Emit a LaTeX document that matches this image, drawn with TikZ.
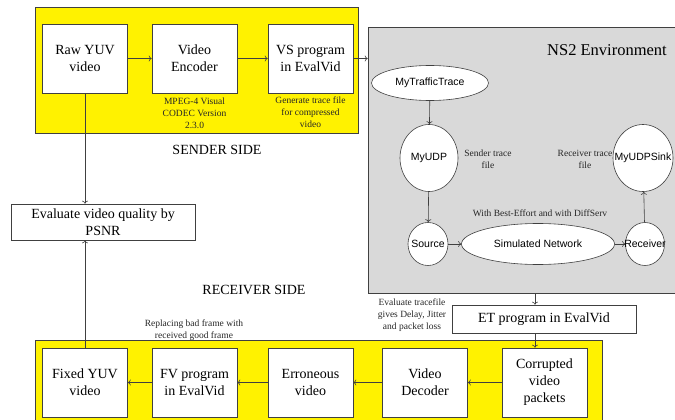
\documentclass[tikz,border=0pt]{standalone}
\usepackage{fontspec}
\setmainfont{Liberation Serif}
\newfontfamily\simfont{Liberation Sans}
\usetikzlibrary{arrows.meta,shapes.geometric}

\tikzset{
  blk/.style={draw=black!75, fill=white, line width=0.6pt, minimum width=85pt, minimum height=69pt,
    align=center, inner sep=1pt, font=\fontsize{14}{17}\selectfont},
  wide/.style={blk, minimum width=184pt},
  simnode/.style={ellipse, draw=black!75, fill=white, line width=0.6pt, inner sep=0pt,
    font=\simfont\fontsize{10.5}{12}\selectfont},
  note/.style={align=center, inner sep=0pt, font=\fontsize{9.5}{12}\selectfont, text=black!85},
  link/.style={draw=black!75, line width=0.6pt, -{To[length=3pt,width=6pt]}}
}
% text that may run over the edge of its circle
\newcommand{\overtext}[1]{\makebox[0pt]{#1}}

\begin{document}
\begin{tikzpicture}[x=1pt, y=-1pt]
\useasboundingbox (0,0) rectangle (675,420);

% the two sides and the simulator
\draw[fill=yellow, draw=black!75, line width=0.6pt] (35,7) rectangle (358,133);
\draw[fill=yellow, draw=black!75, line width=0.6pt] (35,340) rectangle (602,422);
\node[draw=black!75, fill=black!15, line width=0.6pt, minimum width=308pt, minimum height=266pt,
  inner sep=0pt] (ns) at (522,160) {};

% sender side
\node[blk] (raw) at (85,58.5) {Raw YUV\\video};
\node[blk] (enc) at (194.5,58.5) {Video\\Encoder};
\node[blk] (vs) at (310.5,58.5) {VS program\\in EvalVid};
\node[note] (codec) at (194.5,113) {MPEG-4 Visual\\CODEC Version\\2.3.0};
\node[note] (gen) at (310.5,112) {Generate trace file\\for compressed\\video};
\node[font=\fontsize{14}{17}\selectfont] (snd) at (217,150) {SENDER SIDE};

% quality check
\node[wide, minimum height=36pt] (psnr) at (103,222) {Evaluate video quality by\\PSNR};

% NS2
\node[font=\fontsize{16.5}{20}\selectfont] (nslab) at (607,50) {NS2 Environment};
\node[simnode, minimum width=117pt, minimum height=35pt] (trace) at (430,83) {MyTrafficTrace};
\node[simnode, minimum width=58pt, minimum height=67pt] (udp) at (429,158) {MyUDP};
\node[simnode, minimum width=60pt, minimum height=67pt] (sink) at (643,158) {\overtext{MyUDPSink}};
\node[simnode, minimum width=40pt, minimum height=43pt] (src) at (428,244) {\overtext{Source}};
\node[simnode, minimum width=153pt, minimum height=41pt] (net) at (538,244) {Simulated Network};
\node[simnode, minimum width=39pt, minimum height=43pt] (rcv) at (645,244) {\overtext{Receiver}};
\node[note] (strace) at (488,159) {Sender trace\\file};
\node[note] (rtrace) at (585,159) {Receiver trace\\file};
\node[note] (qos) at (540,213) {With Best-Effort and with DiffServ};

% receiver side
\node[wide, minimum height=28pt] (et) at (544,319) {ET program in EvalVid};
\node[note] (evtr) at (412,315) {Evaluate tracefile\\gives Delay, Jitter\\and packet loss};
\node[font=\fontsize{14}{17}\selectfont] (rsd) at (254,290) {RECEIVER SIDE};
\node[note] (repl) at (194,330) {Replacing bad frame with\\received good frame};
\node[blk] (fixed) at (85,382.5) {Fixed YUV\\video};
\node[blk] (fv) at (194.5,382.5) {FV program\\in EvalVid};
\node[blk] (err) at (310.5,382.5) {Erroneous\\video};
\node[blk] (dec) at (425,382.5) {Video\\Decoder};
\node[blk] (cor) at (544.5,382.5) {Corrupted\\video\\packets};

\coordinate (etx) at ([xshift=-9pt]et.north);

\draw[link] (raw) -- (enc);
\draw[link] (enc) -- (vs);
\draw[link] (vs) -- (vs -| ns.west);
\draw[link] (raw) -- (raw |- psnr.north);
\draw[link] (trace) -- (udp);
\draw[link] (udp) -- (src);
\draw[link] (src) -- (net);
\draw[link] (net) -- (rcv);
\draw[link] (rcv) -- (sink);
\draw[link] (etx |- ns.south) -- (etx);
\draw[link] ([xshift=-9pt]et.south) -- ([xshift=-9pt]et.south |- cor.north);
\draw[link] (cor) -- (dec);
\draw[link] (dec) -- (err);
\draw[link] (err) -- (fv);
\draw[link] (fv) -- (fixed);
\draw[link] (fixed) -- (fixed |- psnr.south);

\end{tikzpicture}
\end{document}
